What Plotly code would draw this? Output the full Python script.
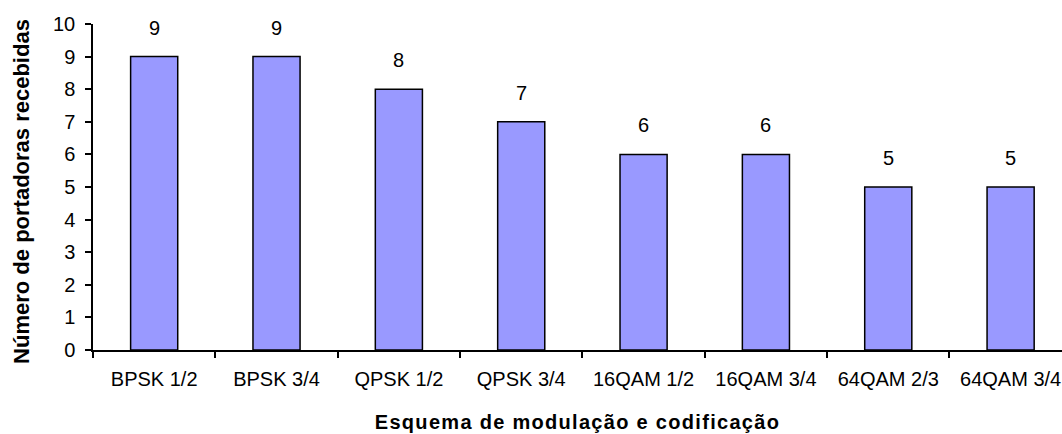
import plotly.graph_objects as go

# Modulation/coding schemes and number of received carriers
schemes = ["BPSK 1/2", "BPSK 3/4", "QPSK 1/2", "QPSK 3/4",
           "16QAM 1/2", "16QAM 3/4", "64QAM 2/3", "64QAM 3/4"]
carriers = [9, 9, 8, 7, 6, 6, 5, 5]
y_ticks = list(range(0, 11))

FONT = "Liberation Sans, Arial, sans-serif"

fig = go.Figure(
    go.Bar(
        x=schemes,
        y=carriers,
        width=0.385,
        marker=dict(color="#9999FF", line=dict(color="#000000", width=1.5)),
        hoverinfo="skip",
    )
)

# value labels floating above each bar
for s, v in zip(schemes, carriers):
    fig.add_annotation(
        x=s, y=v, text=str(v), showarrow=False,
        yanchor="bottom", yshift=16,
        font=dict(family=FONT, size=20, color="#000000"),
    )

# vertical axis title
fig.add_annotation(
    xref="paper", yref="paper", x=0, y=0.485,
    xanchor="center", yanchor="middle", xshift=-71,
    textangle=-90, showarrow=False,
    text="<b>Número de portadoras recebidas</b>",
    font=dict(family=FONT, size=22, color="#000000"),
)

fig.update_layout(
    width=1062, height=434,
    margin=dict(l=93, r=0, t=24, b=84),
    paper_bgcolor="white", plot_bgcolor="white",
    showlegend=False,
    font=dict(family=FONT, size=20, color="#000000"),
)

fig.update_xaxes(
    range=[-0.5, 7.42],
    showline=True, linecolor="#000000", linewidth=1.5,
    ticks="outside", ticklen=6, tickcolor="#000000", tickwidth=1.5,
    tickson="boundaries",
    showgrid=False, zeroline=False,
    tickfont=dict(family=FONT, size=20),
    ticklabelstandoff=10,
    title=dict(text='<span style="letter-spacing:1.3px"><b>Esquema de modulação e codificação</b></span>',
               font=dict(family=FONT, size=20), standoff=26),
)

fig.update_yaxes(
    range=[0, 10],
    tickvals=y_ticks,
    showline=True, linecolor="#000000", linewidth=1.5,
    ticks="outside", ticklen=6, tickcolor="#000000", tickwidth=1.5,
    showgrid=False, zeroline=False,
    tickfont=dict(family=FONT, size=20),
    ticklabelstandoff=6,
)

fig.write_html("out.html")
